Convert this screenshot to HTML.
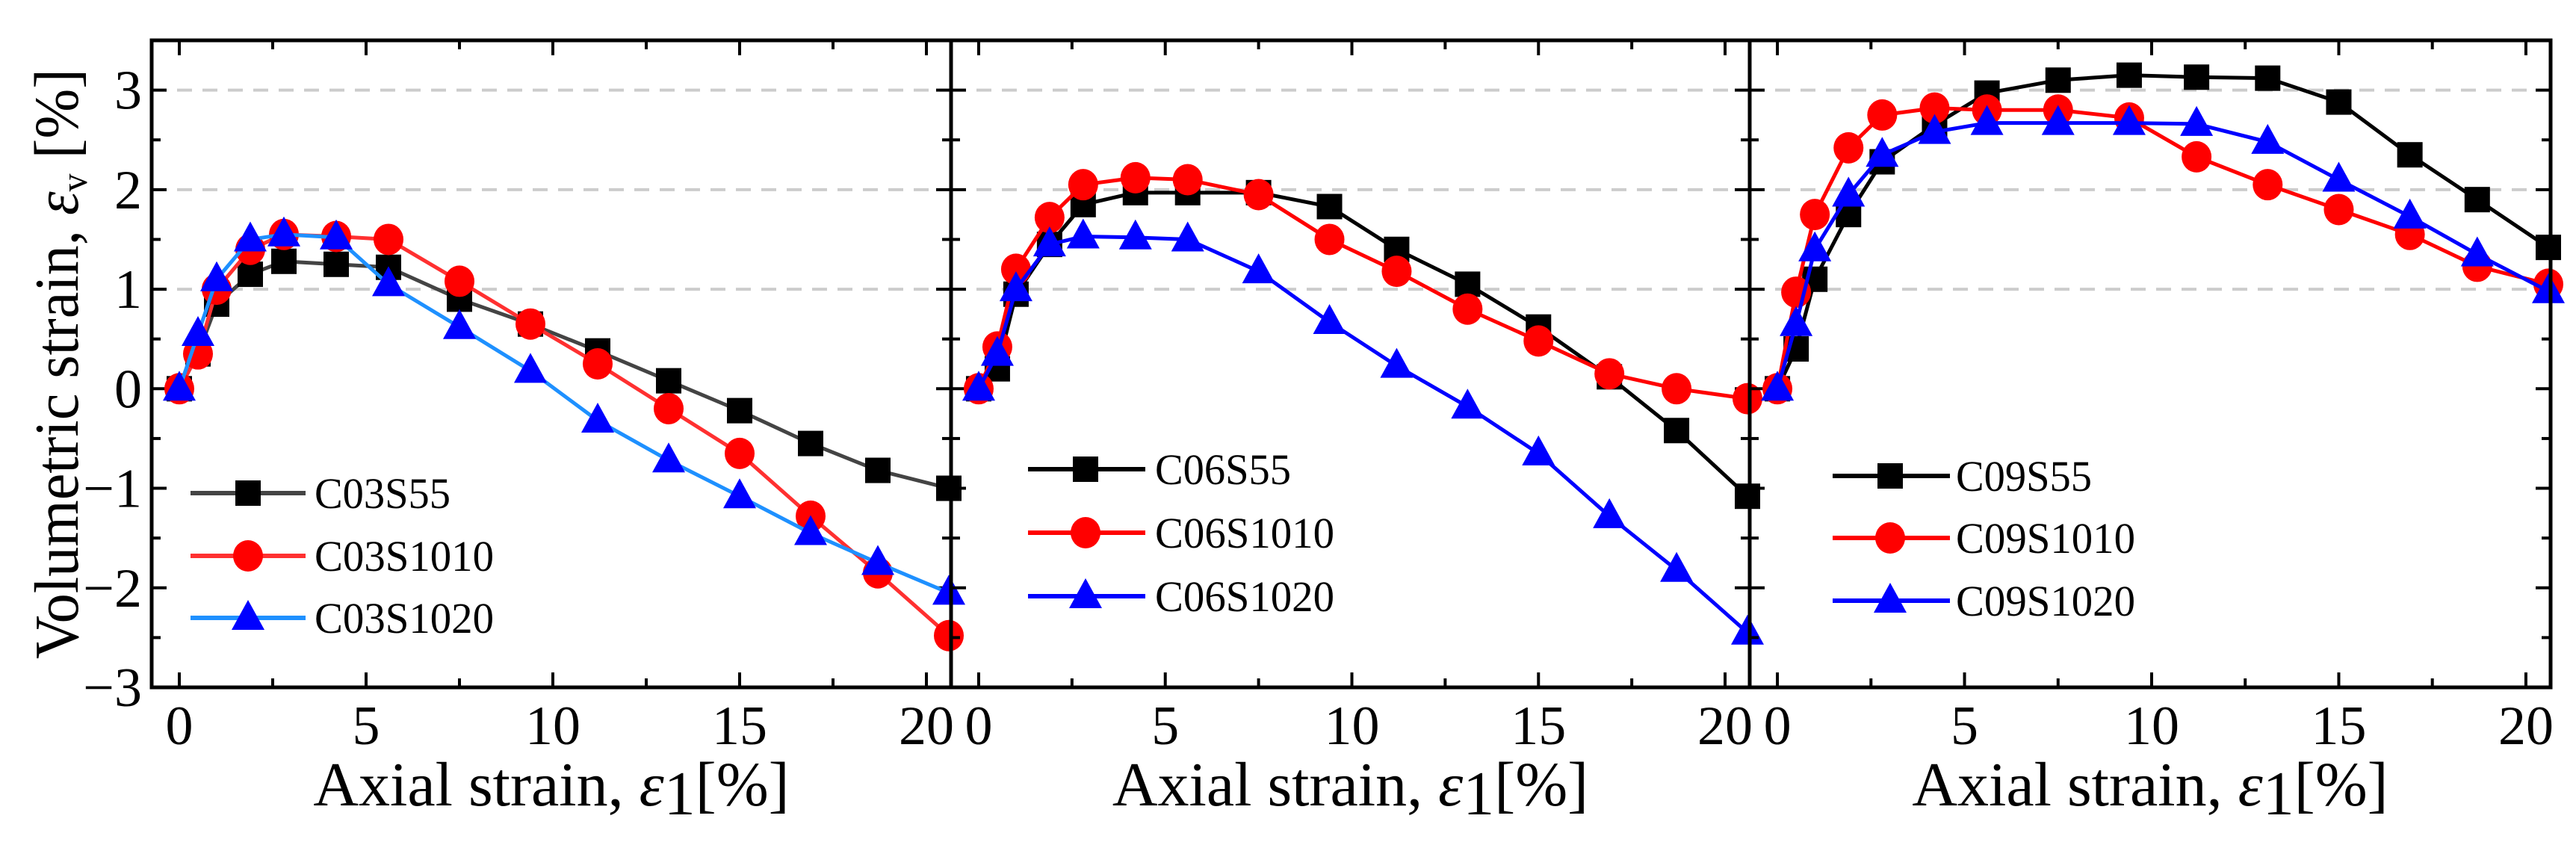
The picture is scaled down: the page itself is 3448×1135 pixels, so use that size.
<!DOCTYPE html>
<html><head><meta charset="utf-8"><style>
html,body{margin:0;padding:0;background:#fff;}
svg{display:block;font-family:"Liberation Serif",serif;}
</style></head><body>
<svg id="chart" width="3448" height="1135" viewBox="0 0 3448 1135" xmlns="http://www.w3.org/2000/svg">
<text transform="translate(104,487) rotate(-90)" text-anchor="middle" font-size="84" textLength="790" lengthAdjust="spacingAndGlyphs">Volumetric strain, <tspan font-style="italic">ε</tspan><tspan font-size="50" dy="12">v</tspan><tspan dy="-12"> [%]</tspan></text>
</svg>
<script>
const xsSteps = [0, 0.5, 1, 1.9, 2.8, 4.2, 5.6, 7.5, 9.4, 11.2, 13.1, 15, 16.9, 18.7, 20.6];
const c03s55 = [0, 0.35, 0.85, 1.15, 1.28, 1.25, 1.22, 0.9, 0.65, 0.38, 0.08, -0.22, -0.55, -0.82, -1.0];
const c03s1010 = [0, 0.35, 1.0, 1.4, 1.55, 1.53, 1.5, 1.08, 0.65, 0.25, -0.2, -0.65, -1.28, -1.85, -2.48];
const c03s1020 = [0, 0.55, 1.1, 1.5, 1.55, 1.52, 1.05, 0.62, 0.18, -0.32, -0.72, -1.08, -1.45, -1.75, -2.05];
const c06s55 = [0, 0.2, 0.95, 1.45, 1.85, 1.97, 1.97, 1.97, 1.83, 1.4, 1.05, 0.62, 0.12, -0.42, -1.08];
const c06s1010 = [0, 0.42, 1.2, 1.72, 2.05, 2.12, 2.1, 1.95, 1.5, 1.18, 0.8, 0.48, 0.15, 0.0, -0.1];
const c06s1020 = [0, 0.35, 1.0, 1.45, 1.53, 1.52, 1.5, 1.18, 0.67, 0.23, -0.18, -0.65, -1.28, -1.82, -2.45];
const c09s55 = [0, 0.4, 1.1, 1.75, 2.28, 2.65, 2.97, 3.1, 3.15, 3.13, 3.12, 2.88, 2.35, 1.9, 1.42];
const c09s1010 = [0, 0.97, 1.75, 2.42, 2.75, 2.82, 2.8, 2.8, 2.72, 2.33, 2.05, 1.8, 1.55, 1.23, 1.05];
const c09s1020 = [0, 0.65, 1.4, 1.95, 2.35, 2.58, 2.67, 2.67, 2.67, 2.66, 2.48, 2.1, 1.73, 1.35, 0.98];
const seriesNames = [["C03S55","C03S1010","C03S1020"],["C06S55","C06S1010","C06S1020"],["C09S55","C09S1010","C09S1020"]];
const xTicks = [0, 5, 10, 15, 20];
const yTicks = [-3, -2, -1, 0, 1, 2, 3];

const NS = "http://www.w3.org/2000/svg";
const svg = document.getElementById("chart");
function el(tag, attrs, parent){const e=document.createElementNS(NS,tag);for(const k in attrs)e.setAttribute(k,attrs[k]);(parent||svg).appendChild(e);return e;}

const panels = [
 {x0:203,x1:1273,data:[c03s55,c03s1010,c03s1020],leg:{lx0:255,lx1:409,mx:332,tx:421,rows:[660,744,827]},lineColors:["#444","#ff3030","#1e90ff"]},
 {x0:1273,x1:2342,data:[c06s55,c06s1010,c06s1020],leg:{lx0:1376,lx1:1533,mx:1453,tx:1546,rows:[628,713,798]},lineColors:["#000","#ff0000","#0000ff"]},
 {x0:2342,x1:3414,data:[c09s55,c09s1010,c09s1020],leg:{lx0:2453,lx1:2610,mx:2530,tx:2618,rows:[637,720,804]},lineColors:["#000","#ff0000","#0000ff"]}
];
const Y0=54, Y1=920, xmin=-0.74, xmax=20.66, ymin=-3, ymax=3.5;
const yS = v => Y1 - (v - ymin)/(ymax - ymin)*(Y1 - Y0);
const markColors=["#000","#ff0000","#0000ff"];

function marker(type,cx,cy,color,parent){
  let m;
  if(type===0) m=el("rect",{x:cx-17,y:cy-17,width:34,height:34,fill:color},parent);
  else if(type===1) m=el("ellipse",{cx:cx,cy:cy,rx:20,ry:21,fill:color},parent);
  else m=el("polygon",{points:`${cx},${cy-24} ${cx+22},${cy+16} ${cx-22},${cy+16}`,fill:color},parent);
  return m;
}

panels.forEach((p,pi)=>{
  const xS = v => p.x0 + (v - xmin)/(xmax - xmin)*(p.x1 - p.x0);
  const g = el("g",{});
  
  
  [1,2,3].forEach(v=>{
    const gl=el("line",{x1:p.x0,x2:p.x1,y1:yS(v),y2:yS(v),stroke:"#cccccc","stroke-width":4,"stroke-dasharray":"20,14"},g);
    
    
  });
  for(let v=0; v<=20; v+=2.5){
    const len = (v%5===0)?20:12;
    el("line",{x1:xS(v),x2:xS(v),y1:Y0,y2:Y0+len,stroke:"#000","stroke-width":4},g);
    el("line",{x1:xS(v),x2:xS(v),y1:Y1,y2:Y1-len,stroke:"#000","stroke-width":4},g);
  }
  for(let v=-3; v<=3.5; v+=0.5){
    const len = (Number.isInteger(v))?20:12;
    el("line",{x1:p.x0,x2:p.x0+len,y1:yS(v),y2:yS(v),stroke:"#000","stroke-width":4},g);
    el("line",{x1:p.x1,x2:p.x1-len,y1:yS(v),y2:yS(v),stroke:"#000","stroke-width":4},g);
  }
  xTicks.forEach(v=>{
    const t=el("text",{x:xS(v),y:996,"text-anchor":"middle","font-size":74},g);
    t.textContent=v;
    
    
  });
  p.data.forEach((d,si)=>{
    const pts = xsSteps.map((x,i)=>`${xS(x)},${yS(d[i])}`).join(" ");
    const pl=el("polyline",{points:pts,fill:"none",stroke:p.lineColors[si],"stroke-width":5,"stroke-linejoin":"round"},g);
    
    
    xsSteps.forEach((x,i)=>{
      const m=marker(si,xS(x),yS(d[i]),markColors[si],g);
      
      
    });
    const ry=p.leg.rows[si];
    const ll=el("line",{x1:p.leg.lx0,x2:p.leg.lx1,y1:ry,y2:ry,stroke:p.lineColors[si],"stroke-width":6},g);
    
    
    const lm=marker(si,p.leg.mx,ry,markColors[si],g);
    
    
    const tl = seriesNames[pi][si].length===6 ? 182 : 240;
    const lt=el("text",{x:p.leg.tx,y:ry+20,"font-size":58,textLength:String(tl),lengthAdjust:"spacingAndGlyphs"},g);
    lt.textContent=seriesNames[pi][si];
    
    
  });
  const xt=el("text",{x:(p.x0+p.x1)/2,y:1078,"text-anchor":"middle","font-size":84},g);
  xt.innerHTML='Axial strain, <tspan font-style="italic">ε</tspan><tspan dy="12">1</tspan><tspan dy="-12">[%]</tspan>';
  
  
  const fr=el("rect",{x:p.x0,y:Y0,width:p.x1-p.x0,height:Y1-Y0,fill:"none",stroke:"#000","stroke-width":5},g);
  
  
});
yTicks.forEach(v=>{
  const t=el("text",{x:190,y:yS(v)+25,"text-anchor":"end","font-size":74});
  t.textContent = v<0 ? "−"+Math.abs(v) : String(v);
  
  
});
</script>
</body></html>
